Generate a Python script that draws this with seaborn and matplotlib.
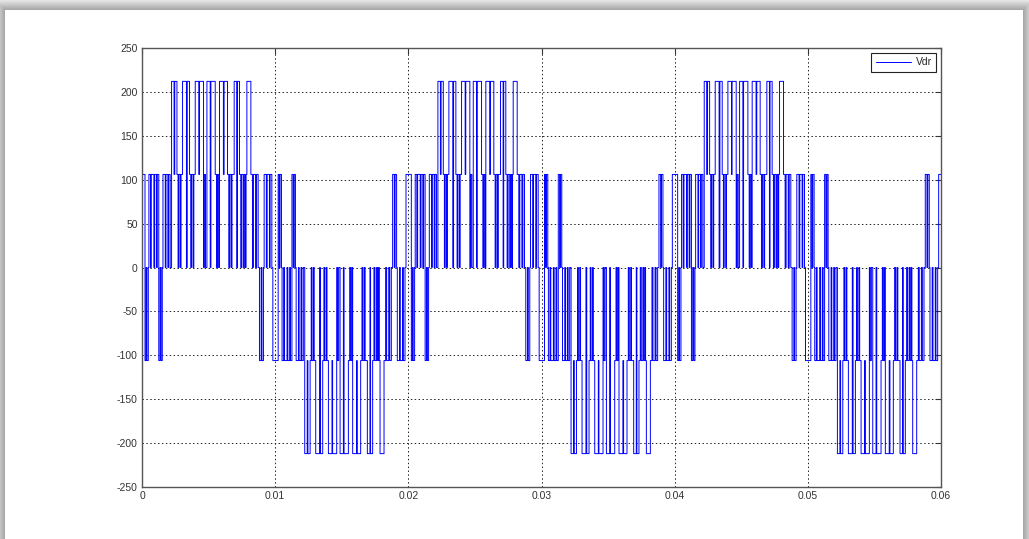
import numpy as np
import pandas as pd
import matplotlib
matplotlib.use("Agg")
import matplotlib.pyplot as plt
import seaborn as sns

# Switching instants of the rotor voltage over the first 10 ms half-cycle (ms)
# and the level held from each instant until the next one (V).  The second
# half-cycle has the same instants shifted by 10 ms with the levels negated.
half_edges_ms = [
    0.000, 0.225, 0.3075, 0.3675, 0.4725, 0.5175, 0.6375, 0.6975, 0.8925, 0.9525,
    1.0875, 1.1475, 1.260, 1.3575, 1.4325, 1.5225, 1.575, 1.7475, 1.800, 1.9425,
    2.0025, 2.115, 2.220, 2.4075, 2.460, 2.625, 2.7075, 2.7675, 2.8725, 2.9325,
    3.045, 3.3375, 3.3975, 3.570, 3.660, 3.720, 3.8325, 3.8925, 3.9975, 4.2675,
    4.3125, 4.620, 4.6875, 4.770, 4.875, 5.1225, 5.175, 5.4975, 5.595, 5.670,
    5.7525, 5.820, 6.1125, 6.165, 6.420, 6.5175, 6.5925, 6.6975, 6.7575, 6.9225,
    7.1175, 7.1625, 7.320, 7.4175, 7.4925, 7.6125, 7.6875, 7.770, 7.815, 7.875,
    8.175, 8.295, 8.370, 8.5275, 8.6025, 8.7225, 8.820, 8.9475, 9.0075, 9.120,
    9.1725, 9.3375, 9.3975, 9.570, 9.6225, 9.750, 9.825,
]
half_levels = [
    106, -106, 0, -106, 0, 106, 0, 106, 0, 106,
    0, 106, -106, 0, -106, 0, 106, 0, 106, 0,
    106, 0, 212, 106, 212, 106, 0, 106, 0, 106,
    212, 0, 212, 106, 0, 106, 0, 106, 212, 106,
    212, 0, 106, 0, 212, 0, 212, 106, 0, 106,
    0, 212, 106, 212, 106, 0, 106, 0, 106, 212,
    0, 212, 106, 0, 106, 0, 106, 0, 106, 212,
    106, 0, 106, 0, 106, 0, -106, 0, -106, 0,
    106, 0, 106, 0, 106, 0, -106,
]
half_ms = 10.0
n_cycles = 3

x_ticks = [0, 0.01, 0.02, 0.03, 0.04, 0.05, 0.06]
x_tick_labels = ["0", "0.01", "0.02", "0.03", "0.04", "0.05", "0.06"]
y_ticks = [-250, -200, -150, -100, -50, 0, 50, 100, 150, 200, 250]
series_name = "Vdr"

# Lay the half-cycles end to end (alternating sign), closed at 60 ms.
edges = np.asarray(half_edges_ms)
levels = np.asarray(half_levels, dtype=float)
t_parts, v_parts = [], []
for k in range(2 * n_cycles):
    t_parts.append(edges + k * half_ms)
    v_parts.append(levels if k % 2 == 0 else -levels)
t_ms = np.concatenate(t_parts)
v = np.concatenate(v_parts)
t_ms = np.append(t_ms, 2 * n_cycles * half_ms)
v = np.append(v, v[-1])
df = pd.DataFrame({"t": t_ms / 1000.0, "v": v})

sns.set_style("white")
plt.rcParams["font.family"] = ["Liberation Sans", "DejaVu Sans"]
plt.rcParams["axes.unicode_minus"] = False

W, H = 1029, 539
fig = plt.figure(figsize=(W / 100, H / 100), dpi=100)

# Window frame: soft grey shadow around a white panel.
bg = np.ones((H, W, 3))
yy, xx = np.mgrid[0:H, 0:W]
panel_x0, panel_x1, panel_y0 = 5, 1022, 10
dx = np.maximum(np.maximum(panel_x0 - xx, xx - panel_x1), 0)
dy = np.maximum(panel_y0 - yy, 0)
d = np.maximum(dx, dy).astype(float)
outside = d > 0
shade = np.where(outside, 0.66 + 0.24 * np.clip((d - 1) / 9.0, 0, 1), 1.0)
bg *= shade[..., None]
bax = fig.add_axes([0, 0, 1, 1], zorder=-1)
bax.imshow(bg, aspect="auto", interpolation="bilinear")
bax.set_axis_off()

left, right, top, bottom = 142, 941, 48, 487
ax = fig.add_axes([left / W, 1 - bottom / H, (right - left) / W, (bottom - top) / H])
ax.set_facecolor("white")

sns.lineplot(data=df, x="t", y="v", drawstyle="steps-post", estimator=None,
             sort=False, color="#0000ff", linewidth=0.7, label=series_name, ax=ax)

ax.set_xlim(0, 0.06)
ax.set_ylim(-250, 250)
ax.set_xticks(x_ticks)
ax.set_xticklabels(x_tick_labels)
ax.set_yticks(y_ticks)
ax.set_xlabel("")
ax.set_ylabel("")

ax.grid(True, which="major", linestyle=(0, (1.5, 2.5)), color="#222222", linewidth=0.7)
ax.set_axisbelow(True)
ax.tick_params(direction="in", length=4.5, width=0.8, top=True, right=True,
               labelsize=7.5, colors="#333333", pad=3)
for s in ax.spines.values():
    s.set_color("#555555")
    s.set_linewidth(1.0)

leg = ax.legend(loc="upper right", fontsize=7.5, frameon=True, fancybox=False,
                framealpha=1, edgecolor="#222222", handlelength=3.4,
                borderaxespad=0.45, borderpad=0.45, handletextpad=0.4)
leg.get_frame().set_linewidth(0.8)

fig.savefig("out.png", dpi=100)
